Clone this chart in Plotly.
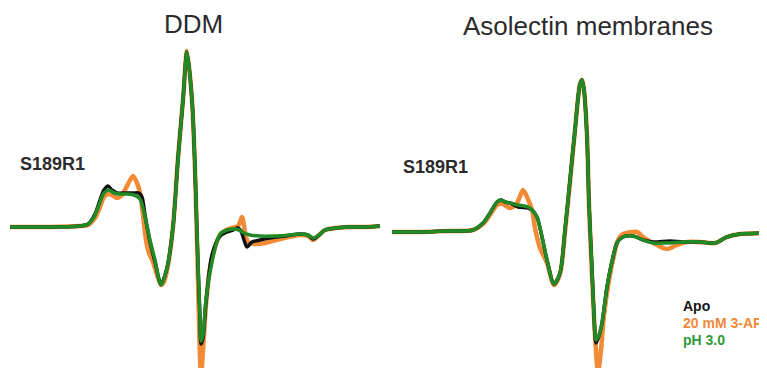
import plotly.graph_objects as go

# ---------------- data (field offset from centre, a.u.; derivative amplitude, a.u.) ----------------
# DDM panel
ddm_apo_field = [-184, -144, -114, -106, -99, -94, -90, -86, -82, -77, -69, -61, -55, -52, -49, -44, -39, -33, -27, -21,
                 -16, -11, -7, -2, 1, 3, 6, 7, 9, 12, 18, 26, 33, 39, 44, 47, 50, 53, 58, 66, 76, 91, 106, 114, 119,
                 124, 131, 141, 156, 171, 186]
ddm_apo_amp = [0, 0, 1, 3, 13, 27, 37, 41, 37, 34, 34, 34, 34, 30, 12, -15, -35, -57, -41, 0,
               69, 127, 175, 127, 59, -9, -93, -117, -111, -75, -28, -9, -5, -3, -1, -4, -13, -20, -15, -13, -11, -9, -7, -8, -12,
               -9, -3, -1, 0, 0, 1]

ddm_3ap_field = [-184, -144, -114, -106, -99, -94, -90, -86, -82, -77, -72, -67, -61, -57, -54, -51, -48, -45, -41, -37,
                 -33, -30, -26, -21, -16, -11, -7, -2, 1, 3, 5, 7, 9, 12, 16, 21, 26, 32, 38, 44, 48, 51, 54, 61, 71,
                 86, 106, 114, 119, 124, 131, 141, 156, 171, 186]
ddm_3ap_amp = [0, 0, 1, 2, 9, 20, 30, 33, 32, 29, 32, 41, 51, 44, 34, 12, -13, -26, -35, -48,
               -58, -55, -38, 0, 69, 127, 176, 127, 57, -13, -93, -151, -123, -78, -41, -20, -8, -3, -1, 1, 10, -5, -15, -17, -16,
               -12, -8, -9, -13, -9, -3, -1, 0, 0, 1]

ddm_ph3_field = [-184, -144, -114, -106, -100, -95, -90, -85, -80, -74, -66, -60, -54, -49, -44, -39, -33, -27, -21,
                 -16, -11, -7, -2, 1, 3, 6, 7, 9, 12, 18, 26, 33, 40, 45, 50, 56, 66, 81, 96, 106, 114, 119, 124,
                 131, 141, 156, 171, 186]
ddm_ph3_amp = [0, 0, 1, 3, 10, 22, 34, 37, 34, 33, 33, 32, 28, 10, -13, -33, -58, -41, 0,
               67, 127, 175, 127, 60, -6, -90, -114, -108, -73, -35, -7, -3, -2, -3, -6, -8, -9, -9, -8, -7, -8, -11, -9,
               -3, -1, 0, 0, 1]

# Asolectin membranes panel
aso_apo_field = [-197, -169, -139, -116, -106, -99, -92, -88, -84, -79, -71, -61, -57, -52, -47, -42, -35, -29, -24,
                 -19, -14, -9, -7, -5, -2, 0, 3, 5, 7, 10, 13, 18, 24, 28, 34, 44, 54, 64, 81, 94, 111, 126, 138,
                 151, 178, 191]
aso_apo_amp = [0, 0, 1, 2, 9, 19, 30, 32, 30, 29, 25, 24, 22, 15, -5, -28, -52, -41, 2,
               52, 102, 148, 152, 142, 95, 29, -38, -83, -111, -104, -91, -55, -25, -11, -5, -4, -8, -10, -9, -10, -10, -11, -5,
               -2, -1, -1]

aso_3ap_field = [-197, -169, -139, -116, -106, -99, -92, -86, -79, -72, -66, -62, -57, -54, -49, -42, -35, -29, -24,
                 -19, -14, -9, -7, -5, -2, 0, 3, 6, 9, 12, 15, 20, 25, 29, 34, 48, 54, 68, 78, 88, 98, 111, 126,
                 138, 151, 178, 191]
aso_3ap_amp = [0, 0, 1, 2, 8, 17, 27, 28, 24, 29, 42, 35, 22, 4, -16, -31, -53, -42, 0,
               50, 102, 148, 152, 142, 97, 27, -43, -103, -140, -118, -83, -48, -23, -8, -2, 0, -5, -13, -17, -13, -10, -10, -11,
               -5, -2, -1, -1]

aso_ph3_field = [-197, -169, -139, -116, -106, -99, -92, -88, -84, -79, -71, -61, -57, -52, -47, -42, -35, -29, -24,
                 -19, -14, -9, -7, -5, -2, 0, 3, 5, 7, 10, 13, 18, 24, 28, 34, 44, 54, 64, 78, 94, 111, 126, 138,
                 151, 178, 191]
aso_ph3_amp = [0, 0, 1, 2, 9, 19, 30, 32, 30, 29, 27, 25, 22, 15, -5, -28, -52, -41, 2,
               52, 102, 148, 152, 142, 95, 29, -38, -83, -108, -103, -91, -55, -25, -11, -5, -4, -8, -11, -11, -10, -10, -11, -5,
               -2, -1, -1]

panel_titles = ["DDM", "Asolectin membranes"]
mutant_label = "S189R1"
legend_labels = ["Apo", "20 mM 3-AP", "pH 3.0"]

# ---------------- styling ----------------
C_APO = "#111111"
C_3AP = "#F28A36"
C_PH3 = "#218A27"
TXT = "#2b2b2b"
FONT = "Arial, Liberation Sans, sans-serif"

fig = go.Figure()

def add(xs, ys, color, width, axis):
    xa, ya = ("x", "y") if axis == 1 else ("x2", "y2")
    fig.add_trace(go.Scatter(
        x=xs, y=ys, mode="lines", xaxis=xa, yaxis=ya,
        line=dict(color=color, width=width, shape="spline", smoothing=0.8),
        showlegend=False, hoverinfo="skip"))

# draw order: orange, black, green on top
add(ddm_3ap_field, ddm_3ap_amp, C_3AP, 4.5, 1)
add(ddm_apo_field, ddm_apo_amp, C_APO, 3.5, 1)
add(ddm_ph3_field, ddm_ph3_amp, C_PH3, 3.5, 1)
add(aso_3ap_field, aso_3ap_amp, C_3AP, 4.5, 2)
add(aso_apo_field, aso_apo_amp, C_APO, 3.5, 2)
add(aso_ph3_field, aso_ph3_amp, C_PH3, 3.5, 2)

W, H = 767, 368
OFF = 8  # page body margin in the browser
split = (384 - OFF) / W
hidden = dict(visible=False, showgrid=False, zeroline=False, fixedrange=True)

fig.update_layout(
    width=W, height=H,
    margin=dict(l=0, r=0, t=0, b=0),
    paper_bgcolor="white", plot_bgcolor="white",
    xaxis=dict(domain=[0, split], range=[-186, 190], **hidden),
    yaxis=dict(domain=[0, 1], range=[-149, 219], **hidden),
    xaxis2=dict(domain=[split, 1], range=[-205, 186], anchor="y2", **hidden),
    yaxis2=dict(domain=[0, 1], range=[-144, 224], anchor="x2", **hidden),
    font=dict(family=FONT, color=TXT),
)

def px(x):
    return (x - OFF) / W

def py(y):
    return 1 - (y - OFF) / H

annots = [
    dict(text=panel_titles[0], x=px(193), y=py(24), size=26, bold=False, color=TXT, xanchor="center"),
    dict(text=panel_titles[1], x=px(588), y=py(26), size=26, bold=False, color=TXT, xanchor="center"),
    dict(text=mutant_label, x=px(52), y=py(164), size=18, bold=True, color=TXT, xanchor="center"),
    dict(text=mutant_label, x=px(435), y=py(167), size=18, bold=True, color=TXT, xanchor="center"),
    dict(text=legend_labels[0], x=px(681), y=py(306), size=14, bold=True, color="#151515", xanchor="left"),
    dict(text=legend_labels[1], x=px(681), y=py(323), size=14, bold=True, color="#F0883A", xanchor="left"),
    dict(text=legend_labels[2], x=px(681), y=py(340), size=14, bold=True, color="#2E9A3A", xanchor="left"),
]
for a in annots:
    t = f"<b>{a['text']}</b>" if a["bold"] else a["text"]
    fig.add_annotation(text=t, x=a["x"], y=a["y"], xref="paper", yref="paper",
                       xanchor=a["xanchor"], yanchor="middle", showarrow=False,
                       font=dict(family=FONT, size=a["size"], color=a["color"]))

fig.write_html("out.html", config={"displayModeBar": False})
